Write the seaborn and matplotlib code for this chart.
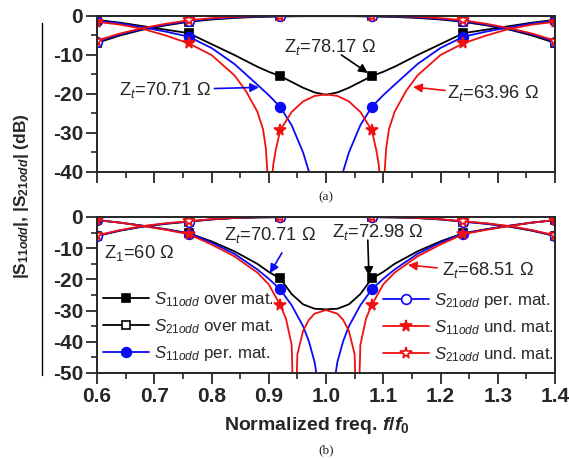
import numpy as np
import matplotlib
matplotlib.use('Agg')
import matplotlib.pyplot as plt
import seaborn as sns
from matplotlib.lines import Line2D
from matplotlib.ticker import MultipleLocator

# ---------------- data ----------------

# marker positions (same for all curves)
marker_x = [0.60, 0.76, 0.92, 1.08, 1.24, 1.40]

# S21 grid (both panels)
x_s21 = [0.60, 0.64, 0.68, 0.72, 0.76, 0.80, 0.84, 0.88, 0.92, 0.96, 1.00,
         1.04, 1.08, 1.12, 1.16, 1.20, 1.24, 1.28, 1.32, 1.36, 1.40]

# (a) top panel
xa_s11_over = [0.60, 0.64, 0.68, 0.72, 0.76, 0.80, 0.84, 0.88, 0.90, 0.92, 0.96, 0.98, 1.00,
               1.02, 1.04, 1.08, 1.10, 1.12, 1.16, 1.20, 1.24, 1.28, 1.32, 1.36, 1.40]
ya_s11_over = [-1.0, -1.7, -2.6, -3.5, -4.4, -7.2, -10.0, -13.0, -14.3, -15.4, -18.4, -19.6, -20.2,
               -19.6, -18.4, -15.4, -14.3, -13.0, -10.0, -7.2, -4.4, -3.5, -2.6, -1.7, -1.0]

xa_s11_per = [0.60, 0.64, 0.68, 0.72, 0.76, 0.80, 0.84, 0.88, 0.90, 0.92, 0.94, 0.96, 0.97, 0.98, 0.99, 1.00,
              1.01, 1.02, 1.03, 1.04, 1.06, 1.08, 1.10, 1.12, 1.16, 1.20, 1.24, 1.28, 1.32, 1.36, 1.40]
ya_s11_per = [-1.2, -1.9, -2.9, -4.0, -5.3, -8.2, -12.3, -17.6, -20.3, -23.3, -28.0, -35.0, -39.8, -46.5, -58.0, -75.0,
              -58.0, -46.5, -39.8, -35.0, -28.0, -23.3, -20.3, -17.6, -12.3, -8.2, -5.3, -4.0, -2.9, -1.9, -1.2]

xa_s11_und = [0.60, 0.64, 0.68, 0.72, 0.76, 0.80, 0.84, 0.86, 0.88, 0.89, 0.895, 0.898, 0.901, 0.904, 0.908,
              0.912, 0.92, 0.94, 0.96, 0.98, 1.00, 1.02, 1.04, 1.06, 1.08, 1.088, 1.092, 1.096, 1.099,
              1.102, 1.105, 1.11, 1.12, 1.14, 1.16, 1.20, 1.24, 1.28, 1.32, 1.36, 1.40]
ya_s11_und = [-1.5, -2.2, -3.3, -5.0, -7.0, -10.0, -15.2, -19.2, -24.5, -29.0, -34.0, -41.0, -70.0, -44.0, -38.0,
              -34.5, -29.3, -24.6, -21.9, -20.5, -20.1, -20.5, -21.9, -24.6, -29.3, -34.5, -38.0, -44.0, -70.0,
              -41.0, -34.0, -29.0, -24.5, -19.2, -15.2, -10.0, -7.0, -5.0, -3.3, -2.2, -1.5]

ya_s21_over = [-6.9, -5.0, -3.5, -2.4, -1.5, -0.9, -0.5, -0.25, -0.12, -0.05, -0.04,
               -0.05, -0.12, -0.25, -0.5, -0.9, -1.5, -2.4, -3.5, -5.0, -6.9]
ya_s21_per = [-6.6, -4.7, -3.3, -2.2, -1.3, -0.75, -0.35, -0.15, -0.05, -0.01, 0.0,
              -0.01, -0.05, -0.15, -0.35, -0.75, -1.3, -2.2, -3.3, -4.7, -6.6]
ya_s21_und = [-6.3, -4.5, -3.1, -2.0, -1.1, -0.55, -0.2, -0.06, -0.02, -0.03, -0.04,
              -0.03, -0.02, -0.06, -0.2, -0.55, -1.1, -2.0, -3.1, -4.5, -6.3]

# (b) bottom panel
xb_s11_over = [0.60, 0.64, 0.68, 0.72, 0.76, 0.80, 0.84, 0.88, 0.90, 0.92, 0.94, 0.96, 0.98, 1.00,
               1.02, 1.04, 1.06, 1.08, 1.10, 1.12, 1.16, 1.20, 1.24, 1.28, 1.32, 1.36, 1.40]
yb_s11_over = [-1.0, -1.8, -2.8, -3.9, -5.2, -7.8, -11.0, -15.0, -17.6, -19.7, -24.7, -28.0, -29.4, -29.6,
               -29.4, -28.0, -24.7, -19.7, -17.6, -15.0, -11.0, -7.8, -5.2, -3.9, -2.8, -1.8, -1.0]

xb_s11_per = [0.60, 0.64, 0.68, 0.72, 0.76, 0.80, 0.84, 0.88, 0.90, 0.92, 0.94, 0.96, 0.97, 0.98, 0.99, 1.00,
              1.01, 1.02, 1.03, 1.04, 1.06, 1.08, 1.10, 1.12, 1.16, 1.20, 1.24, 1.28, 1.32, 1.36, 1.40]
yb_s11_per = [-1.0, -1.8, -2.8, -4.0, -5.3, -8.2, -11.8, -16.8, -19.8, -23.2, -28.3, -35.0, -39.8, -46.4, -58.0, -80.0,
              -58.0, -46.4, -39.8, -35.0, -28.3, -23.2, -19.8, -16.8, -11.8, -8.2, -5.3, -4.0, -2.8, -1.8, -1.0]

xb_s11_und = [0.60, 0.64, 0.68, 0.72, 0.76, 0.80, 0.84, 0.88, 0.90, 0.92, 0.93, 0.94, 0.945, 0.95, 0.96, 0.97,
              0.98, 1.00, 1.02, 1.03, 1.04, 1.05, 1.055, 1.06, 1.07, 1.08, 1.10, 1.12, 1.16, 1.20, 1.24,
              1.28, 1.32, 1.36, 1.40]
yb_s11_und = [-1.0, -1.8, -2.9, -4.1, -5.5, -8.8, -12.6, -17.8, -21.6, -28.2, -32.5, -41.0, -75.0, -44.0, -36.5, -33.0,
              -31.0, -29.8, -31.0, -33.0, -36.5, -44.0, -75.0, -41.0, -32.5, -28.2, -21.6, -17.8, -12.6, -8.8, -5.5,
              -4.1, -2.9, -1.8, -1.0]

yb_s21_over = [-6.1, -4.4, -3.1, -2.2, -1.5, -0.8, -0.35, -0.14, -0.05, -0.01, 0.0,
               -0.01, -0.05, -0.14, -0.35, -0.8, -1.5, -2.2, -3.1, -4.4, -6.1]
yb_s21_per = [-6.0, -4.3, -3.0, -2.1, -1.45, -0.75, -0.3, -0.1, -0.03, 0.0, 0.0,
              0.0, -0.03, -0.1, -0.3, -0.75, -1.45, -2.1, -3.0, -4.3, -6.0]
yb_s21_und = [-5.9, -4.2, -2.9, -2.0, -1.4, -0.7, -0.28, -0.08, -0.02, 0.0, 0.0,
              0.0, -0.02, -0.08, -0.28, -0.7, -1.4, -2.0, -2.9, -4.2, -5.9]

x_ticks = [0.6, 0.7, 0.8, 0.9, 1.0, 1.1, 1.2, 1.3, 1.4]
x_ticklabels = ['0.6', '0.7', '0.8', '0.9', '1.0', '1.1', '1.2', '1.3', '1.4']
ya_ticks = [0, -10, -20, -30, -40]
yb_ticks = [0, -10, -20, -30, -40, -50]

legend_labels = [r'$S_{11odd}$ over mat.', r'$S_{21odd}$ over mat.', r'$S_{11odd}$ per. mat.',
                 r'$S_{21odd}$ per. mat.', r'$S_{11odd}$ und. mat.', r'$S_{21odd}$ und. mat.']

# ---------------- style ----------------
sns.set_style('ticks')
plt.rcParams['font.family'] = ['Liberation Sans', 'DejaVu Sans']
plt.rcParams['mathtext.fontset'] = 'custom'
plt.rcParams['mathtext.rm'] = 'Liberation Sans'
plt.rcParams['mathtext.it'] = 'Liberation Sans:italic'
plt.rcParams['mathtext.bf'] = 'Liberation Sans:bold'
plt.rcParams['mathtext.bfit'] = 'Liberation Sans:italic:bold'
plt.rcParams['axes.unicode_minus'] = False

BLACK, BLUE, RED = '#000000', '#0a0af5', '#f01010'
LW = 1.3

# (color, marker, filled, marker size pt)
styles = [(BLACK, 's', True, 5.5), (BLACK, 's', False, 5.5),
          (BLUE, 'o', True, 7), (BLUE, 'o', False, 7),
          (RED, '*', True, 8.5), (RED, '*', False, 8.5)]


def draw_curve(ax, x, y, style):
    color, marker, filled, ms = style
    sns.lineplot(x=x, y=y, ax=ax, color=color, lw=LW, estimator=None, sort=False, legend=False)
    x = np.array(x)
    y = np.array(y)
    sel = np.isin(np.round(x, 3), marker_x)
    ax.plot(x[sel], y[sel], ls='none', marker=marker, ms=ms, mec=color,
            mfc=color if filled else 'white', mew=1.2)


def style_axes(ax, yticks, ylim):
    ax.set_xlim(0.6, 1.4)
    ax.set_ylim(*ylim)
    ax.set_xticks(x_ticks)
    ax.set_xticklabels(x_ticklabels)
    ax.set_yticks(yticks)
    ax.set_yticklabels([str(t) for t in yticks])
    ax.xaxis.set_minor_locator(MultipleLocator(0.05))
    ax.yaxis.set_minor_locator(MultipleLocator(5))
    ax.tick_params(which='major', direction='out', length=8, width=1.3, labelsize=15, pad=2)
    ax.tick_params(which='minor', direction='out', length=4.5, width=1.2)
    ax.tick_params(top=False, right=False, which='both')
    for lbl in ax.get_xticklabels() + ax.get_yticklabels():
        lbl.set_fontweight('bold')
    for sp in ax.spines.values():
        sp.set_visible(True)
        sp.set_linewidth(1.4)


fig = plt.figure(figsize=(5.69, 4.59), dpi=100)
W, H = 569.0, 459.0
ax_a = fig.add_axes([97 / W, 1 - 172 / H, 458 / W, 156 / H])
ax_b = fig.add_axes([97 / W, 1 - 373 / H, 458 / W, 156 / H])

top_curves = [(xa_s11_over, ya_s11_over), (x_s21, ya_s21_over), (xa_s11_per, ya_s11_per),
              (x_s21, ya_s21_per), (xa_s11_und, ya_s11_und), (x_s21, ya_s21_und)]
bot_curves = [(xb_s11_over, yb_s11_over), (x_s21, yb_s21_over), (xb_s11_per, yb_s11_per),
              (x_s21, yb_s21_per), (xb_s11_und, yb_s11_und), (x_s21, yb_s21_und)]

for (x, y), st in zip(top_curves, styles):
    draw_curve(ax_a, x, y, st)
for (x, y), st in zip(bot_curves, styles):
    draw_curve(ax_b, x, y, st)

style_axes(ax_a, ya_ticks, (-40, 0))
style_axes(ax_b, yb_ticks, (-50, 0))
ax_a.tick_params(labelbottom=False)

# annotations
ann_fs = 13.2
arrow_kw = dict(arrowstyle='-|>', lw=1.2, mutation_scale=13, shrinkA=0, shrinkB=0)

ax_a.text(0.926, -7.9, r'Z$_t$=78.17 Ω', fontsize=ann_fs, ha='left', va='center')
ax_a.annotate('', xy=(1.073, -14.6), xytext=(1.027, -10.0), arrowprops=dict(color=BLACK, **arrow_kw))
ax_a.text(0.638, -19.0, r'Z$_t$=70.71 Ω', fontsize=ann_fs, ha='left', va='center')
ax_a.annotate('', xy=(0.883, -18.3), xytext=(0.805, -18.6), arrowprops=dict(color=BLUE, **arrow_kw))
ax_a.text(1.211, -19.7, r'Z$_t$=63.96 Ω', fontsize=ann_fs, ha='left', va='center')
ax_a.annotate('', xy=(1.152, -18.2), xytext=(1.208, -19.1), arrowprops=dict(color=RED, **arrow_kw))

ax_b.text(0.612, -11.5, r'Z$_1$=60 Ω', fontsize=ann_fs, ha='left', va='center')
ax_b.text(0.822, -5.8, r'Z$_t$=70.71 Ω', fontsize=ann_fs, ha='left', va='center')
ax_b.annotate('', xy=(0.902, -18.0), xytext=(0.923, -11.5), arrowprops=dict(color=BLUE, **arrow_kw))
ax_b.text(1.010, -4.8, r'Z$_t$=72.98 Ω', fontsize=ann_fs, ha='left', va='center')
ax_b.annotate('', xy=(1.075, -18.9), xytext=(1.073, -7.4), arrowprops=dict(color=BLACK, **arrow_kw))
ax_b.text(1.202, -17.0, r'Z$_t$=68.51 Ω', fontsize=ann_fs, ha='left', va='center')
ax_b.annotate('', xy=(1.143, -15.4), xytext=(1.194, -16.3), arrowprops=dict(color=RED, **arrow_kw))

# legend, two separate columns
handles = []
for color, marker, filled, ms in styles:
    handles.append(Line2D([], [], color=color, lw=LW, marker=marker, ms=ms, mec=color,
                          mfc=color if filled else 'white', mew=1.2))
leg_kw = dict(frameon=False, fontsize=12.2, handlelength=2.7, handletextpad=0.3,
              labelspacing=0.5, borderpad=0, borderaxespad=0, loc='center left')
leg1 = ax_b.legend(handles[:3], legend_labels[:3], bbox_to_anchor=(0.013, 0.298), **leg_kw)
ax_b.add_artist(leg1)
ax_b.legend(handles[3:], legend_labels[3:], bbox_to_anchor=(0.624, 0.292), **leg_kw)

# figure-level labels
fig.text(22 / W, 1 - 196 / H, r'|S$_{\mathbf{11}\mathbfit{odd}}$|, |S$_{\mathbf{21}\mathbfit{odd}}$| (dB)',
         rotation=90, ha='center', va='center', fontsize=12.5, fontweight='bold')
fig.text(317 / W, 1 - 425 / H, r'Normalized freq. $\mathbfit{f}$/$\mathbfit{f}_\mathbf{0}$',
         ha='center', va='center', fontsize=14, fontweight='bold')
fig.text(326 / W, 1 - 197 / H, '(a)', ha='center', va='center', family='Liberation Serif', fontsize=9.5)
fig.text(326 / W, 1 - 450 / H, '(b)', ha='center', va='center', family='Liberation Serif', fontsize=9.5)
fig.add_artist(Line2D([42 / W, 42 / W], [1 - 23 / H, 1 - 375 / H], transform=fig.transFigure,
                      color='black', lw=1.0))

fig.savefig('out.png', dpi=100)
